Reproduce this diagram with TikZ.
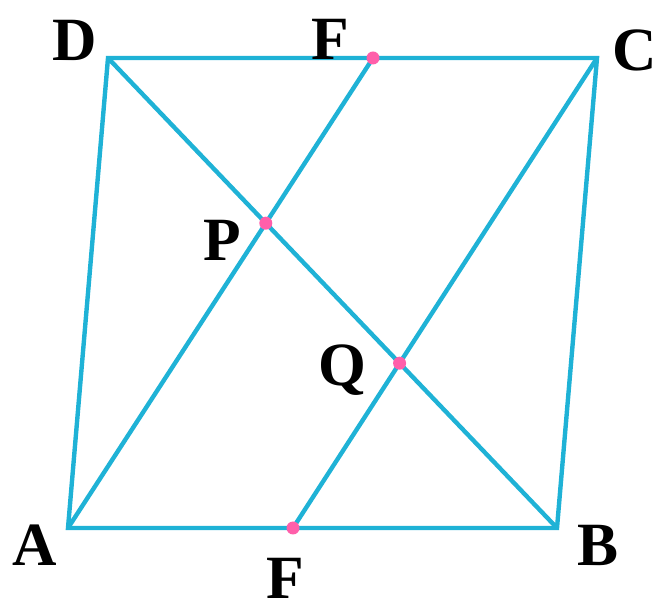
\documentclass[tikz,border=0pt]{standalone}
\usepackage{fontspec}
\setmainfont{Liberation Serif}
\usepackage{tikz}
\usetikzlibrary{calc}
\definecolor{EdgeCyan}{HTML}{1FB2D6}
\definecolor{DotPink}{HTML}{FF5FAA}

\begin{document}
\begin{tikzpicture}[
    edge/.style={EdgeCyan,line width=2.5pt,line join=miter},
    dot/.style={fill=DotPink,draw=none},
    lbl/.style={font=\fontsize{35}{40}\selectfont\bfseries,inner sep=0pt}
  ]
  \useasboundingbox (0,0) rectangle (13.16,12.24);
  % vertices of the parallelogram
  \coordinate (A) at (1.36,1.68);
  \coordinate (B) at (11.14,1.68);
  \coordinate (C) at (11.94,11.08);
  \coordinate (D) at (2.16,11.08);
  \coordinate (E) at (7.46,11.08);
  \coordinate (F) at (5.86,1.68);
  \coordinate (P) at (intersection of A--E and D--B);
  \coordinate (Q) at (intersection of C--F and D--B);

  \draw[edge] (A) -- (B) -- (C) -- (D) -- cycle;
  \draw[edge] (D) -- (B);
  \draw[edge] (A) -- (E);
  \draw[edge] (F) -- (C);
  \foreach \p in {E,F,P,Q} {
    \fill[dot] (\p) circle (0.13);
  }

  \node[lbl] (lA) at (0.70,1.34) {A};
  \node[lbl] (lB) at (11.96,1.34) {B};
  \node[lbl] (lC) at (12.70,11.24) {C};
  \node[lbl] (lD) at (1.50,11.44) {D};
  \node[lbl] (lE) at (6.60,11.46) {F};
  \node[lbl] (lF) at (5.70,0.68) {F};
  \node[lbl] (lP) at (4.44,7.44) {P};
  \node[lbl] (lQ) at (6.84,4.84) {Q};
\end{tikzpicture}
\end{document}
